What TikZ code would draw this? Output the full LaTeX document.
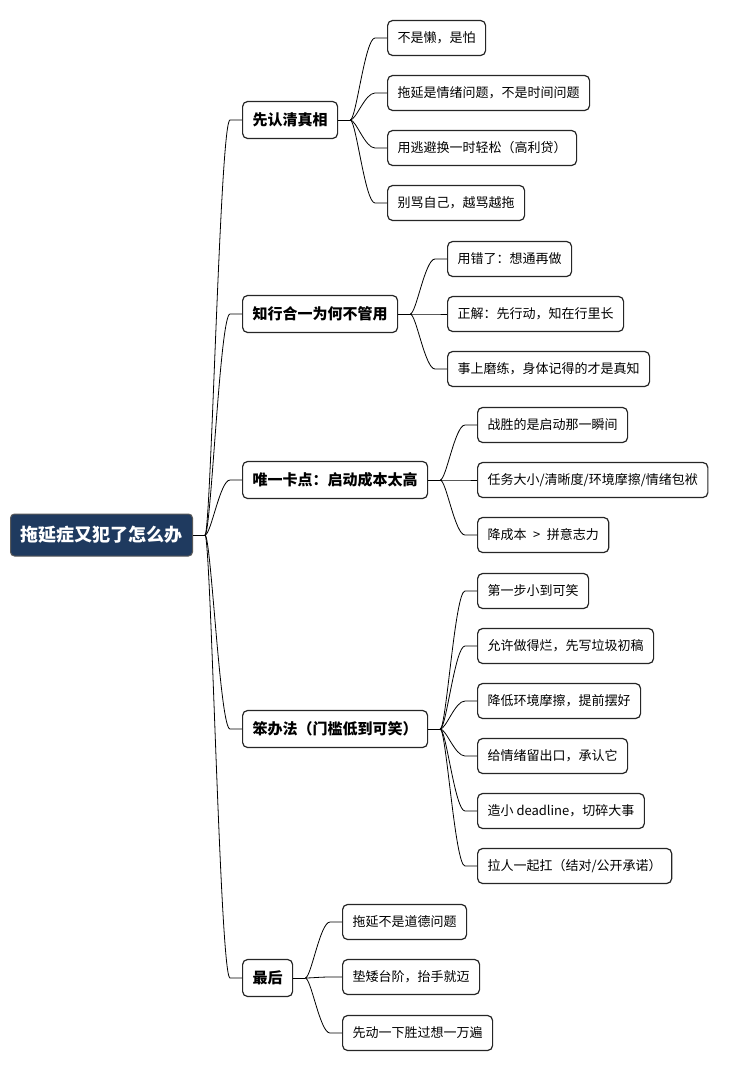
\documentclass[tikz,border=0pt]{standalone}
\usepackage{fontspec}
\setmainfont{Noto Sans CJK SC}
\definecolor{azulraiz}{RGB}{31,58,95}
\begin{document}
\begin{tikzpicture}[x=1pt,y=-1pt,
        raiz/.style={draw=gray!70!black, line width=1pt, fill=azulraiz, text=white, rounded corners=4pt,
                     anchor=west, minimum height=42pt, inner xsep=10pt, font=\fontsize{18}{21}\selectfont\bfseries},
        rama/.style={draw=black!85, line width=1.2pt, fill=white, rounded corners=5pt,
                     anchor=west, minimum height=37pt, inner xsep=10pt, font=\fontsize{15}{18}\selectfont\bfseries},
        hoja/.style={draw=black!85, line width=1.2pt, fill=white, rounded corners=5pt,
                     anchor=west, minimum height=35pt, inner xsep=10pt, font=\fontsize{13}{16}\selectfont},
        enlace/.style={line width=0.8pt}]
                \useasboundingbox (0,0) rectangle (732,1070);

                % Raiz
                \node[raiz] (raiz) at (10,535) {拖延症又犯了怎么办};

                % Ramas
                \node[rama] (r1) at (242,120) {先认清真相};
                \node[rama] (r2) at (242,314) {知行合一为何不管用};
                \node[rama] (r3) at (242,480) {唯一卡点：启动成本太高};
                \node[rama] (r4) at (242,729) {笨办法（门槛低到可笑）};
                \node[rama] (r5) at (242,978) {最后};

                % Hojas
                \node[hoja] (h11) at (387,38) {不是懒，是怕};
                \node[hoja] (h12) at (387,93) {拖延是情绪问题，不是时间问题};
                \node[hoja] (h13) at (387,148) {用逃避换一时轻松（高利贷）};
                \node[hoja] (h14) at (387,203) {别骂自己，越骂越拖};

                \node[hoja] (h21) at (447,259) {用错了：想通再做};
                \node[hoja] (h22) at (447,314) {正解：先行动，知在行里长};
                \node[hoja] (h23) at (447,369) {事上磨练，身体记得的才是真知};

                \node[hoja] (h31) at (477,425) {战胜的是启动那一瞬间};
                \node[hoja] (h32) at (477,480) {任务大小/清晰度/环境摩擦/情绪包袱};
                \node[hoja] (h33) at (477,535) {降成本{\enspace}>{\enspace}拼意志力};

                \node[hoja] (h41) at (477,591) {第一步小到可笑};
                \node[hoja] (h42) at (477,646) {允许做得烂，先写垃圾初稿};
                \node[hoja] (h43) at (477,701) {降低环境摩擦，提前摆好};
                \node[hoja] (h44) at (477,756) {给情绪留出口，承认它};
                \node[hoja] (h45) at (477,811) {造小 deadline，切碎大事};
                \node[hoja] (h46) at (477,866) {拉人一起扛（结对/公开承诺）};

                \node[hoja] (h51) at (342,922) {拖延不是道德问题};
                \node[hoja] (h52) at (342,977) {垫矮台阶，抬手就迈};
                \node[hoja] (h53) at (342,1033) {先动一下胜过想一万遍};

                % Conexiones
                \foreach \p/\hijos in {raiz/{r1,r2,r3,r4,r5}, r1/{h11,h12,h13,h14}, r2/{h21,h22,h23},
                                       r3/{h31,h32,h33}, r4/{h41,h42,h43,h44,h45,h46}, r5/{h51,h52,h53}} {
                    \draw[enlace] (\p.east) -- ++(12,0) coordinate (j\p);
                    \foreach \h in \hijos
                        \draw[enlace] (j\p) .. controls +(6,0) and +(-10,0) .. ([xshift=-12pt]\h.west) -- (\h.west);
                }
            \end{tikzpicture}
\end{document}
